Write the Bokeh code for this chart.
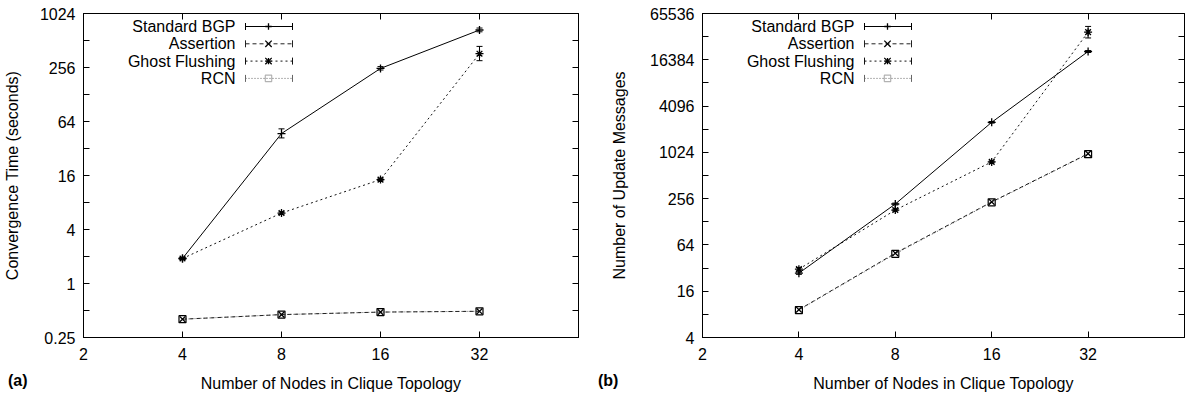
from bokeh.plotting import figure
from bokeh.models import (Range1d, FixedTicker, CustomJSTickFormatter, LogAxis, Label,
                          Arrow, TeeHead, PolyAnnotation, Div)
from bokeh.layouts import row, column
from bokeh.embed import file_html
from bokeh.resources import INLINE

FONT = "Liberation Sans"

# ---------------- data ----------------
nodes = [4, 8, 16, 32]
x_ticks = [2, 4, 8, 16, 32]
series_names = ["Standard BGP", "Assertion", "Ghost Flushing", "RCN"]
x_label = "Number of Nodes in Clique Topology"

# (a) convergence time (seconds)
conv_bgp = [1.9, 47, 250, 670]
conv_bgp_lo = [1.85, 42, 240, 640]
conv_bgp_hi = [1.95, 53, 262, 705]
conv_assertion = [0.40, 0.45, 0.48, 0.49]
conv_ghost = [1.9, 6.1, 14.4, 365]
conv_ghost_lo = [1.85, 5.9, 14.0, 305]
conv_ghost_hi = [1.95, 6.3, 14.9, 440]
conv_rcn = [0.40, 0.45, 0.48, 0.49]
conv_yticks = [0.25, 0.5, 1, 2, 4, 8, 16, 32, 64, 128, 256, 512, 1024]

# (b) number of update messages
upd_bgp = [27.5, 218, 2520, 21000]
upd_bgp_lo = [26.5, 212, 2460, 20400]
upd_bgp_hi = [28.5, 224, 2580, 21600]
upd_assertion = [9.2, 50, 232, 985]
upd_ghost = [31, 182, 770, 37500]
upd_ghost_lo = [29.5, 177, 750, 31500]
upd_ghost_hi = [32.5, 187, 790, 44500]
upd_rcn = [9.1, 49, 229, 970]
upd_yticks = [4, 8, 16, 32, 64, 128, 256, 512, 1024, 2048, 4096, 8192, 16384, 32768, 65536]

styles = {
    "Standard BGP": dict(dash="solid", color="black", marker="cross"),
    "Assertion": dict(dash="4 3", color="#222222", marker="x"),
    "Ghost Flushing": dict(dash="2 3", color="#111111", marker="asterisk"),
    "RCN": dict(dash="1 2", color="#666666", marker="square"),
}

FH = 324


def legend_entry(p, i, name):
    st = styles[name]
    y = FH - 13 - i * 17.3
    p.add_layout(Label(x=152, y=y, x_units="screen", y_units="screen", text=name,
                       text_align="right", text_baseline="middle",
                       text_font_size="16px", text_font=FONT, text_color="black"))
    p.add_layout(Arrow(x_start=162, y_start=y, x_end=209, y_end=y,
                       start_units="screen", end_units="screen",
                       start=TeeHead(size=7, line_width=1, line_color=st["color"]),
                       end=TeeHead(size=7, line_width=1, line_color=st["color"]),
                       line_dash=st["dash"], line_color=st["color"], line_width=1))
    cx, s = 185, 3.2
    segs = []
    if st["marker"] in ("cross", "asterisk"):
        segs += [(cx - s, y, cx + s, y), (cx, y - s, cx, y + s)]
    if st["marker"] in ("x", "asterisk"):
        segs += [(cx - s, y - s, cx + s, y + s), (cx - s, y + s, cx + s, y - s)]
    for (a, b, c, d) in segs:
        p.add_layout(Arrow(x_start=a, y_start=b, x_end=c, y_end=d,
                           start_units="screen", end_units="screen", end=None,
                           line_color="black", line_width=1.3))
    if st["marker"] == "square":
        p.add_layout(PolyAnnotation(xs=[cx - s, cx + s, cx + s, cx - s],
                                    ys=[y - s, y - s, y + s, y + s],
                                    xs_units="screen", ys_units="screen",
                                    fill_alpha=0, line_color="black", line_width=1.2))


def make_panel(yr, yticks, ylabel, data, errs, fw, bl, br, ylab_standoff):
    p = figure(x_axis_type="log", y_axis_type="log",
               x_range=Range1d(2, 64), y_range=Range1d(*yr),
               frame_width=fw, frame_height=FH,
               min_border_left=bl, min_border_right=br, min_border_top=13,
               min_border_bottom=0,
               output_backend="svg", toolbar_location=None,
               background_fill_color="white", border_fill_color="white")
    p.grid.visible = False
    p.outline_line_color = "black"
    p.outline_line_width = 1
    p.outline_line_alpha = 1

    yfmt = CustomJSTickFormatter(code="""
        const l = Math.round(Math.log2(tick));
        return (l % 2 == 0) ? String(tick) : '';
    """)
    xfmt = CustomJSTickFormatter(code="return String(tick);")

    for ax, tk, fmt in ((p.xaxis[0], x_ticks, xfmt), (p.yaxis[0], yticks, yfmt)):
        ax.ticker = FixedTicker(ticks=tk)
        ax.formatter = fmt
        ax.major_tick_in = 6
        ax.major_tick_out = 0
        ax.minor_tick_in = 0
        ax.minor_tick_out = 0
        ax.axis_line_color = "black"
        ax.major_tick_line_color = "black"
        ax.major_label_text_font = FONT
        ax.major_label_text_font_size = "16px"
        ax.major_label_text_color = "black"
        ax.major_label_standoff = 8
        ax.axis_label_text_font = FONT
        ax.axis_label_text_font_size = "16px"
        ax.axis_label_text_font_style = "normal"
        ax.axis_label_text_color = "black"
    p.xaxis.axis_label = x_label
    p.xaxis.major_label_standoff = 10
    p.xaxis.axis_label_standoff = 12
    p.yaxis.axis_label = ylabel
    p.yaxis.axis_label_standoff = ylab_standoff

    blank = CustomJSTickFormatter(code="return '';")
    for side, tk in (("above", x_ticks), ("right", yticks)):
        mirror = LogAxis(ticker=FixedTicker(ticks=tk), formatter=blank,
                         major_label_text_font_size="1px",
                         major_label_standoff=0, major_tick_in=6, major_tick_out=0,
                         minor_tick_in=0, minor_tick_out=0,
                         axis_line_color="black", major_tick_line_color="black")
        p.add_layout(mirror, side)

    # draw series (RCN first so Assertion dashes are visible on top)
    for name in ["RCN", "Assertion", "Ghost Flushing", "Standard BGP"]:
        st = styles[name]
        vals = data[name]
        p.line(nodes, vals, line_dash=st["dash"], line_color=st["color"], line_width=1)
        if name in errs:
            lo, hi = errs[name]
            p.segment(x0=nodes, y0=lo, x1=nodes, y1=hi, line_color="black", line_width=1)
            p.scatter(nodes, lo, marker="dash", size=6, line_color="black", line_width=1)
            p.scatter(nodes, hi, marker="dash", size=6, line_color="black", line_width=1)
        if st["marker"] == "square":
            p.scatter(nodes, vals, marker="square", size=7, line_color="black",
                      fill_color=None, line_width=1.2)
        else:
            p.scatter(nodes, vals, marker=st["marker"], size=8, line_color="black",
                      line_width=1.3)

    for i, name in enumerate(series_names):
        legend_entry(p, i, name)
    return p


def tag_div(text, width, pad_left, lift):
    style = (f"font-family:'{FONT}';font-size:16px;font-weight:bold;color:black;"
             f"padding-left:{pad_left}px;line-height:18px;white-space:nowrap;"
             f"position:relative;top:-{lift}px;")
    return Div(text=f'<div style="{style}">{text}</div>', width=width, height=4,
               margin=0, styles={"overflow": "visible"})


pa = make_panel((0.25, 1024), conv_yticks, "Convergence Time (seconds)",
                {"Standard BGP": conv_bgp, "Assertion": conv_assertion,
                 "Ghost Flushing": conv_ghost, "RCN": conv_rcn},
                {"Standard BGP": (conv_bgp_lo, conv_bgp_hi),
                 "Ghost Flushing": (conv_ghost_lo, conv_ghost_hi)},
                fw=495, bl=81, br=16, ylab_standoff=16)
pb = make_panel((4, 65536), upd_yticks, "Number of Update Messages",
                {"Standard BGP": upd_bgp, "Assertion": upd_assertion,
                 "Ghost Flushing": upd_ghost, "RCN": upd_rcn},
                {"Standard BGP": (upd_bgp_lo, upd_bgp_hi),
                 "Ghost Flushing": (upd_ghost_lo, upd_ghost_hi)},
                fw=482, bl=108, br=3, ylab_standoff=19)

tags = row(tag_div("(a)", 592, 8, 22), tag_div("(b)", 590, 6, 22), spacing=0,
           styles={"overflow": "visible"})

layout = column(row(pa, pb, spacing=0), tags, spacing=0)
open("out.html", "w").write(file_html(layout, INLINE))
